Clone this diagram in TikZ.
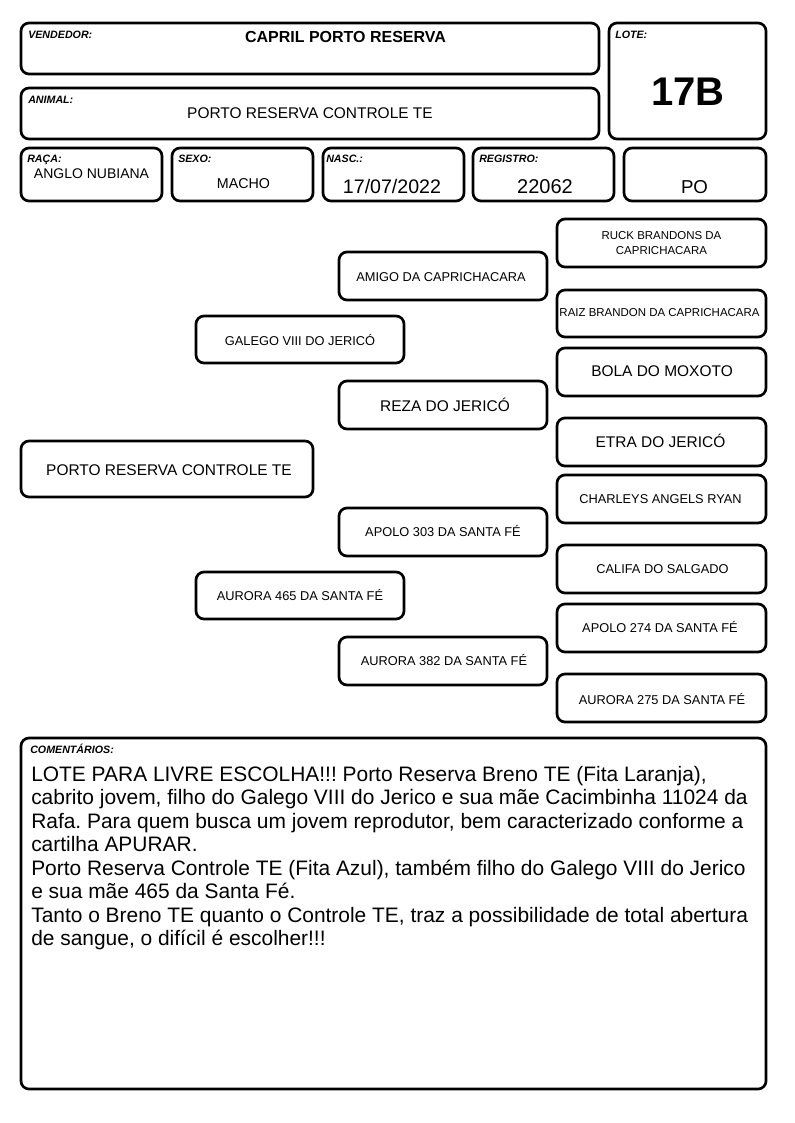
\documentclass[tikz,border=0pt]{standalone}
\usepackage{fontspec}
\setmainfont{Liberation Sans}
\frenchspacing
\tikzset{
  cell/.style={line width=2pt, rounded corners=6pt},
  tag/.style={anchor=base west, inner sep=0pt, font=\fontsize{8}{9}\selectfont\bfseries\itshape},
  val/.style={anchor=base, inner sep=0pt},
  pedsm/.style={val, font=\fontsize{9.6}{11.5}\selectfont},
  pedbig/.style={val, font=\fontsize{11.6}{14}\selectfont},
  pedtiny/.style={inner sep=0pt, align=center, font=\fontsize{8.6}{11.25}\selectfont},
}
\begin{document}
\begin{tikzpicture}[x=0.75pt, y=-0.75pt]
        \useasboundingbox (0, 0) rectangle (794, 1123);

        % header
        \draw[cell] (21, 23) rectangle (599, 74);
        \draw[cell] (21, 88) rectangle (599, 139);
        \draw[cell] (609, 23) rectangle (766, 139);
        \draw[cell] (21, 148) rectangle (162, 201);
        \draw[cell] (172, 148) rectangle (313, 201);
        \draw[cell] (323, 148) rectangle (464, 201);
        \draw[cell] (473, 148) rectangle (614, 201);
        \draw[cell] (624, 148) rectangle (766, 201);

        \node[tag] (vendedor) at (28, 39) {VENDEDOR:};
        \node[tag] (animal) at (28, 103.3) {ANIMAL:};
        \node[tag] (lote) at (615, 39) {LOTE:};
        \node[tag] (raca) at (27, 162.7) {RAÇA:};
        \node[tag] (sexo) at (178, 162.7) {SEXO:};
        \node[tag] (nasc) at (326, 162.7) {NASC.:};
        \node[tag] (registro) at (479, 162.7) {REGISTRO:};

        \node[val, font=\fontsize{12}{14}\selectfont\bfseries] (vendedorval) at (345.5, 43) {CAPRIL PORTO RESERVA};
        \node[pedbig] (animalval) at (310, 118.3) {PORTO RESERVA CONTROLE TE};
        \node[val, font=\fontsize{30}{32}\selectfont\bfseries] (loteval) at (688, 105.7) {17B};
        \node[val, font=\fontsize{10.5}{12}\selectfont] (racaval) at (91.5, 178.3) {ANGLO NUBIANA};
        \node[val, font=\fontsize{10.7}{12}\selectfont] (sexoval) at (243.5, 189) {MACHO};
        \node[val, font=\fontsize{14.7}{17}\selectfont] (nascval) at (392, 193.3) {17/07/2022};
        \node[val, font=\fontsize{15}{17}\selectfont] (registroval) at (545, 193.3) {22062};
        \node[val, font=\fontsize{14}{17}\selectfont] (poval) at (694.5, 193.3) {PO};

        % pedigree
        \draw[cell] (21, 441) rectangle (313, 497);
        \draw[cell] (196, 316) rectangle (404, 363);
        \draw[cell] (196, 572) rectangle (404, 619);
        \draw[cell] (339, 252) rectangle (547, 300);
        \draw[cell] (339, 381) rectangle (547, 429);
        \draw[cell] (339, 508) rectangle (547, 556);
        \draw[cell] (339, 637) rectangle (547, 685);
        \draw[cell] (557, 219) rectangle (766, 267);
        \draw[cell] (557, 290) rectangle (766, 337);
        \draw[cell] (557, 348) rectangle (766, 396);
        \draw[cell] (557, 418) rectangle (766, 466);
        \draw[cell] (557, 475) rectangle (766, 523);
        \draw[cell] (557, 545) rectangle (766, 593);
        \draw[cell] (557, 604) rectangle (766, 652);
        \draw[cell] (557, 674) rectangle (766, 722);

        \node[pedbig] (self) at (169, 475.5) {PORTO RESERVA CONTROLE TE};
        \node[pedsm] (sire) at (300, 345.5) {GALEGO VIII DO JERICÓ};
        \node[pedsm] (dam) at (300, 600) {AURORA 465 DA SANTA FÉ};
        \node[pedsm] (siresire) at (441, 281.5) {AMIGO DA CAPRICHACARA};
        \node[pedbig] (siredam) at (445, 411.5) {REZA DO JERICÓ};
        \node[pedsm] (damsire) at (443, 536.7) {APOLO 303 DA SANTA FÉ};
        \node[pedsm] (damdam) at (444, 665.7) {AURORA 382 DA SANTA FÉ};
        \node[pedtiny] (ggs1) at (661.5, 243) {RUCK BRANDONS DA\\CAPRICHACARA};
        \node[val, font=\fontsize{8.6}{10}\selectfont] (ggd1) at (659.5, 316.7) {RAIZ BRANDON DA CAPRICHACARA};
        \node[pedbig] (ggs2) at (662, 376.7) {BOLA DO MOXOTO};
        \node[pedbig] (ggd2) at (660.5, 447.5) {ETRA DO JERICÓ};
        \node[pedsm] (ggs3) at (660.5, 503.6) {CHARLEYS ANGELS RYAN};
        \node[pedsm] (ggd3) at (662.5, 573.3) {CALIFA DO SALGADO};
        \node[pedsm] (ggs4) at (660, 632.3) {APOLO 274 DA SANTA FÉ};
        \node[pedsm] (ggd4) at (662, 704) {AURORA 275 DA SANTA FÉ};

        % comentarios
        \draw[cell] (21, 738) rectangle (766, 1089);
        \node[tag] (comentarios) at (30, 753.3) {COMENTÁRIOS:};
        \node[anchor=north west, inner sep=0pt, font=\fontsize{15.7}{17.6}\selectfont] (comentariosval) at (31, 766)
            {\parbox[t]{560pt}{\raggedright
             LOTE PARA LIVRE ESCOLHA!!! Porto Reserva Breno TE (Fita Laranja),\\
             cabrito jovem, filho do Galego VIII do Jerico e sua mãe Cacimbinha 11024 da\\
             Rafa. Para quem busca um jovem reprodutor, bem caracterizado conforme a\\
             cartilha APURAR.\\
             Porto Reserva Controle TE (Fita Azul), também filho do Galego VIII do Jerico\\
             e sua mãe 465 da Santa Fé.\\
             Tanto o Breno TE quanto o Controle TE, traz a possibilidade de total abertura\\
             de sangue, o difícil é escolher!!!}};
    \end{tikzpicture}
\end{document}
